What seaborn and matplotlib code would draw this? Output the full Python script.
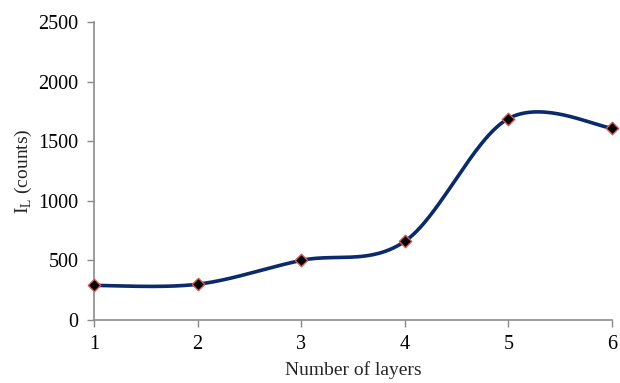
import numpy as np
import pandas as pd
import seaborn as sns
import matplotlib
matplotlib.use("Agg")
import matplotlib.pyplot as plt

# Measured intensity versus number of deposited layers
layers = [1, 2, 3, 4, 5, 6]
intensity = [290, 300, 500, 660, 1690, 1610]
y_ticks = [0, 500, 1000, 1500, 2000, 2500]


def smooth_curve(xs, ys, n=60):
    """Cubic Bezier smoothing through every point (spreadsheet-style)."""
    xs = np.asarray(xs, float)
    ys = np.asarray(ys, float)
    px = np.concatenate([[xs[0]], xs, [xs[-1]]])
    py = np.concatenate([[ys[0]], ys, [ys[-1]]])
    out_x, out_y = [], []
    t = np.linspace(0, 1, n)
    for i in range(len(xs) - 1):
        p0x, p0y = px[i + 1], py[i + 1]
        p3x, p3y = px[i + 2], py[i + 2]
        c1x = p0x + (px[i + 2] - px[i]) / 6
        c1y = p0y + (py[i + 2] - py[i]) / 6
        c2x = p3x - (px[i + 3] - px[i + 1]) / 6
        c2y = p3y - (py[i + 3] - py[i + 1]) / 6
        b0 = (1 - t) ** 3
        b1 = 3 * (1 - t) ** 2 * t
        b2 = 3 * (1 - t) * t ** 2
        b3 = t ** 3
        out_x.append(b0 * p0x + b1 * c1x + b2 * c2x + b3 * p3x)
        out_y.append(b0 * p0y + b1 * c1y + b2 * c2y + b3 * p3y)
    return np.concatenate(out_x), np.concatenate(out_y)


sns.set_theme(style="white")
plt.rcParams["font.family"] = ["Liberation Serif", "DejaVu Serif"]

fig = plt.figure(figsize=(6.2, 3.83), dpi=100)
ax = fig.add_axes([0.1516, 0.1645, 0.8355, 0.778])

sx, sy = smooth_curve(layers, intensity)
curve = pd.DataFrame({"x": sx, "y": sy})
pts = pd.DataFrame({"layers": layers, "intensity": intensity})

sns.lineplot(data=curve, x="x", y="y", ax=ax, color="#0b2a6b",
             linewidth=2.6, sort=False, zorder=2)
sns.scatterplot(data=pts, x="layers", y="intensity", ax=ax, marker="D",
                s=40, color="black", edgecolor="#d45a55", linewidth=1.0,
                zorder=3, clip_on=False)

ax.set_xlim(1, 6)
ax.set_ylim(0, 2500)
ax.set_xticks(layers)
ax.set_yticks(y_ticks)
ax.tick_params(axis="both", labelsize=14.5, colors="#888888",
               labelcolor="black", length=5, width=1, direction="out",
               bottom=True, left=True, pad=6)

for side in ["top", "right"]:
    ax.spines[side].set_visible(False)
for side in ["left", "bottom"]:
    ax.spines[side].set_color("#8c8c8c")
    ax.spines[side].set_linewidth(1.2)

ax.set_xlabel("Number of layers", fontsize=14, labelpad=5)
ax.set_ylabel(r"I$_\mathregular{L}$ (counts)", fontsize=14, labelpad=3)

fig.savefig("out.png", dpi=100)
